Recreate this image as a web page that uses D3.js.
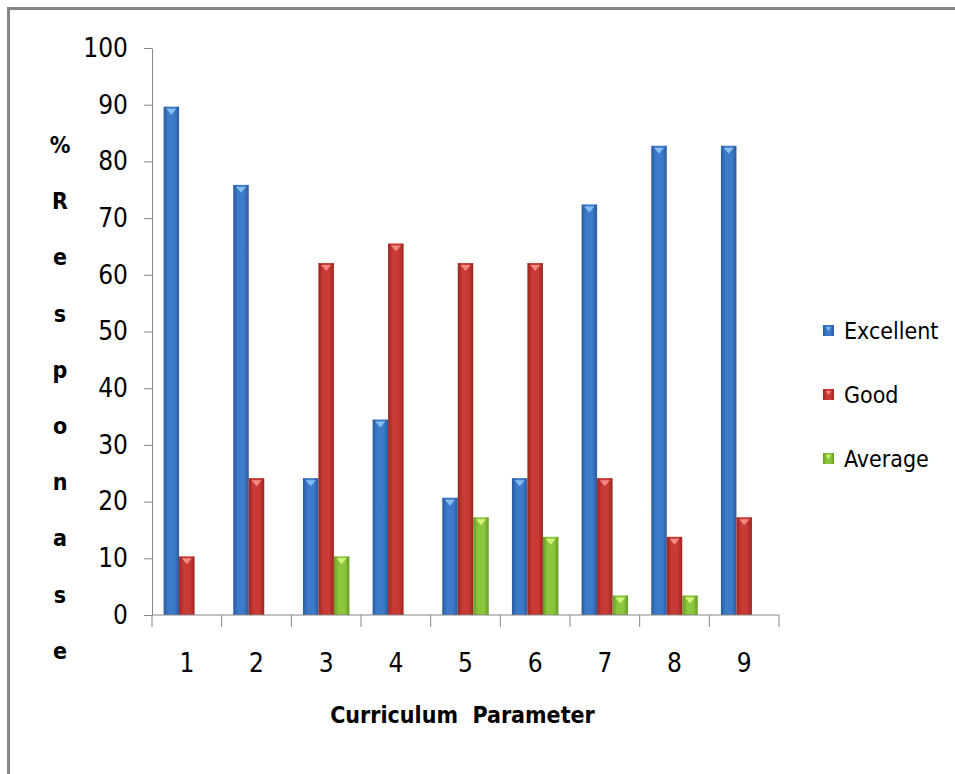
<!DOCTYPE html>
<html>
<head>
<meta charset="utf-8">
<script src="https://cdn.jsdelivr.net/npm/d3@7"></script>
<style>
    body { margin: 0; background: #fff; }
    text { font-family: "Liberation Sans Narrow", "DejaVu Sans Condensed", sans-serif; fill: #000; }
</style>
</head>
<body>
<div class="chart"></div>
<script>

// data (29 respondents)
let categories = ["1", "2", "3", "4", "5", "6", "7", "8", "9"];
let seriesNames = ["Excellent", "Good", "Average"];
let excellent = [89.66, 75.86, 24.14, 34.48, 20.69, 24.14, 72.41, 82.76, 82.76];
let good = [10.34, 24.14, 62.07, 65.52, 62.07, 62.07, 24.14, 13.79, 17.24];
let average = [0, 0, 10.34, 0, 17.24, 13.79, 3.45, 3.45, 0];
let yTicks = [0, 10, 20, 30, 40, 50, 60, 70, 80, 90, 100];
let yLabel = "%Responase".split("");
let xLabel = "Curriculum\u00a0\u00a0Parameter";

let W = 955, H = 774;
let margin = {top: 48, left: 152, right: 176, bottom: 159};
let width = W - margin.left - margin.right;
let height = H - margin.top - margin.bottom;

let svg = d3.select(".chart").append("svg")
    .attr("width", W)
    .attr("height", H);

// outer frame (only top/left visible in the picture)
svg.append("rect")
    .attr("x", 8.5).attr("y", 8.5)
    .attr("width", W + 20).attr("height", H + 20)
    .attr("fill", "none")
    .attr("stroke", "#858585")
    .attr("stroke-width", 3);

// colours: base, edge, highlight triangle
let colors = {
    Excellent: {base: "#3d7ac9", edge: "#2a5a9e", tip: "#86bdf2"},
    Good: {base: "#c93a35", edge: "#9a2420", tip: "#f38a84"},
    Average: {base: "#8cc63c", edge: "#669a24", tip: "#d4f27c"}
};

let defs = svg.append("defs");
seriesNames.forEach(function (s) {
    let g = defs.append("linearGradient")
        .attr("id", "grad-" + s)
        .attr("x1", "0").attr("x2", "1").attr("y1", "0").attr("y2", "0");
    g.append("stop").attr("offset", "0%").attr("stop-color", colors[s].edge);
    g.append("stop").attr("offset", "30%").attr("stop-color", colors[s].base);
    g.append("stop").attr("offset", "70%").attr("stop-color", colors[s].base);
    g.append("stop").attr("offset", "100%").attr("stop-color", colors[s].edge);
});

let chart = svg.append("g")
    .attr("transform", `translate(${margin.left}, ${margin.top})`);

let x = d3.scaleBand()
    .domain(categories)
    .range([0, width])
    .paddingInner(0.333)
    .paddingOuter(0.1665);

// group band, ticks at category boundaries
let xOuter = d3.scaleBand().domain(categories).range([0, width]);

let xSub = d3.scaleBand()
    .domain(seriesNames)
    .range([0, x.bandwidth()]);

let y = d3.scaleLinear()
    .domain([0, 100])
    .range([height, 0]);

let rows = categories.map(function (c, i) {
    return {cat: c, values: [
        {key: "Excellent", value: excellent[i]},
        {key: "Good", value: good[i]},
        {key: "Average", value: average[i]}
    ]};
});

// bars
let groups = chart.selectAll(".group")
    .data(rows)
    .enter()
    .append("g")
    .attr("class", "group")
    .attr("transform", d => `translate(${x(d.cat)}, 0)`);

let bars = groups.selectAll(".bar")
    .data(d => d.values.filter(v => v.value > 0))
    .enter();

bars.append("rect")
    .attr("class", "bar")
    .attr("x", d => xSub(d.key))
    .attr("y", d => y(d.value))
    .attr("width", xSub.bandwidth())
    .attr("height", d => height - y(d.value))
    .attr("fill", d => "url(#grad-" + d.key + ")");

// little highlight triangle at the top of each bar
bars.append("path")
    .attr("d", function (d) {
        let cx = xSub(d.key) + xSub.bandwidth() / 2;
        let top = y(d.value) + 2;
        return `M${cx - 5},${top} L${cx + 5},${top} L${cx},${top + 6} Z`;
    })
    .attr("fill", d => colors[d.key].tip);

// y axis
let yAxis = chart.append("g")
    .call(d3.axisLeft(y).tickValues(yTicks).tickSize(8).tickSizeOuter(0));
yAxis.select(".domain").attr("stroke", "#868686");
yAxis.selectAll(".tick line").attr("stroke", "#868686");
yAxis.selectAll(".tick text")
    .attr("x", -24)
    .style("font-size", "26px")
    .style("font-family", "'Liberation Sans Narrow', 'DejaVu Sans Condensed', sans-serif");

// x axis: line plus boundary ticks
let xAxis = chart.append("g")
    .attr("transform", `translate(0, ${height})`);
xAxis.append("line")
    .attr("x1", 0).attr("x2", width)
    .attr("stroke", "#868686");
xAxis.selectAll(".xtick")
    .data(categories.concat(["end"]))
    .enter()
    .append("line")
    .attr("x1", (d, i) => i * xOuter.step())
    .attr("x2", (d, i) => i * xOuter.step())
    .attr("y1", 0).attr("y2", 12)
    .attr("stroke", "#868686");
xAxis.selectAll(".xlabel")
    .data(categories)
    .enter()
    .append("text")
    .attr("x", d => xOuter(d) + xOuter.bandwidth() / 2)
    .attr("y", 57)
    .attr("text-anchor", "middle")
    .style("font-size", "26px")
    .text(d => d);

// axis titles
chart.append("text")
    .attr("x", width / 2 - 3)
    .attr("y", height + 108)
    .attr("text-anchor", "middle")
    .style("font-size", "23px")
    .style("font-weight", "bold")
    .text(xLabel);

svg.selectAll(".ylab")
    .data(yLabel)
    .enter()
    .append("text")
    .attr("x", 60)
    .attr("y", (d, i) => 153 + i * 56.2)
    .attr("text-anchor", "middle")
    .style("font-size", "23px")
    .style("font-weight", "bold")
    .text(d => d);

// legend
let legend = svg.selectAll(".legend")
    .data(seriesNames)
    .enter()
    .append("g")
    .attr("transform", (d, i) => `translate(823, ${331 + i * 64})`);
legend.append("rect")
    .attr("x", 0).attr("y", -6)
    .attr("width", 11).attr("height", 11)
    .attr("fill", d => "url(#grad-" + d + ")");
legend.append("path")
    .attr("d", "M3,-4 L8,-4 L5.5,0 Z")
    .attr("fill", d => colors[d].tip);
legend.append("text")
    .attr("x", 21)
    .attr("y", 0)
    .attr("dy", "0.35em")
    .style("font-size", "23px")
    .text(d => d);

</script>
</body>
</html>
